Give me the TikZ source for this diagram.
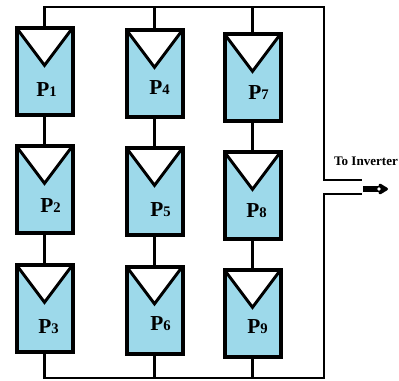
\documentclass[tikz,border=0pt]{standalone}
\usepackage{fontspec}
\setmainfont{Liberation Serif}
\usetikzlibrary{arrows.meta}
\definecolor{panelblue}{HTML}{9DD9EA}
\newcommand{\panellabel}[1]{{\fontsize{16}{18}\selectfont P}{\fontsize{11}{12}\selectfont #1}}
\tikzset{
  panel/.style={draw, line width=3pt, fill=panelblue, minimum width=42pt, minimum height=65.25pt, inner sep=0pt,
    path picture={\draw[line width=2.2pt, fill=white] (path picture bounding box.north west) -- (path picture bounding box.north east) -- ([yshift=-28pt]path picture bounding box.north) -- cycle;}},
  wire/.style={line width=1.6pt},
  plabel/.style={font=\bfseries, inner sep=0pt}
}
\begin{document}
\begin{tikzpicture}[x=0.75pt, y=0.75pt]
\useasboundingbox (0,0) rectangle (399,380);

% Panels, three strings of three
\node[panel] (p1) at (44.5, 308.5) {};
\node[panel] (p2) at (44.5, 190.5) {};
\node[panel] (p3) at (44.5, 71.5) {};
\node[panel] (p4) at (154.5, 306.5) {};
\node[panel] (p5) at (154.5, 188.5) {};
\node[panel] (p6) at (154.5, 70) {};
\node[panel] (p7) at (252.5, 302.5) {};
\node[panel] (p8) at (252.5, 184.5) {};
\node[panel] (p9) at (252.5, 66.5) {};

% Labels
\node[plabel] (l1) at ([shift={(2,-18)}]p1.center) {\panellabel{1}};
\node[plabel] (l2) at ([shift={(6,-16)}]p2.center) {\panellabel{2}};
\node[plabel] (l3) at ([shift={(4,-18)}]p3.center) {\panellabel{3}};
\node[plabel] (l4) at ([shift={(5,-14)}]p4.center) {\panellabel{4}};
\node[plabel] (l5) at ([shift={(6,-18)}]p5.center) {\panellabel{5}};
\node[plabel] (l6) at ([shift={(6,-14)}]p6.center) {\panellabel{6}};
\node[plabel] (l7) at ([shift={(6,-15)}]p7.center) {\panellabel{7}};
\node[plabel] (l8) at ([shift={(4,-15)}]p8.center) {\panellabel{8}};
\node[plabel] (l9) at ([shift={(5,-13)}]p9.center) {\panellabel{9}};

% Series wiring
\draw[wire] (p1) -- (p2);
\draw[wire] (p2) -- (p3);
\draw[wire] (p4) -- (p5);
\draw[wire] (p5) -- (p6);
\draw[wire] (p7) -- (p8);
\draw[wire] (p8) -- (p9);

% Bus lines to the inverter
\coordinate (tr) at (324, 373);
\coordinate (br) at (324, 2);
\coordinate (o1) at (362, 200);
\coordinate (o2) at (362, 186);
\draw[wire] (p1.north) |- (tr) |- (o1);
\draw[wire] (p4.north) -- (p4.north |- tr);
\draw[wire] (p7.north) -- (p7.north |- tr);
\draw[wire] (p3.south) |- (br) |- (o2);
\draw[wire] (p6.south) -- (p6.south |- br);
\draw[wire] (p9.south) -- (p9.south |- br);

% Output arrow
\coordinate (as) at (363, 191);
\coordinate (ae) at (388, 191);
\coordinate (ad) at (379, 191);
\draw[line width=4.5pt, -{Triangle[round, length=8pt, width=9pt]}] (as) -- (ae);
\fill[white] (ad) circle (1.4pt);
\node[font={\fontsize{9.8}{11}\selectfont\bfseries}, inner sep=0pt] (inv) at (366, 219) {To Inverter};
\end{tikzpicture}
\end{document}
